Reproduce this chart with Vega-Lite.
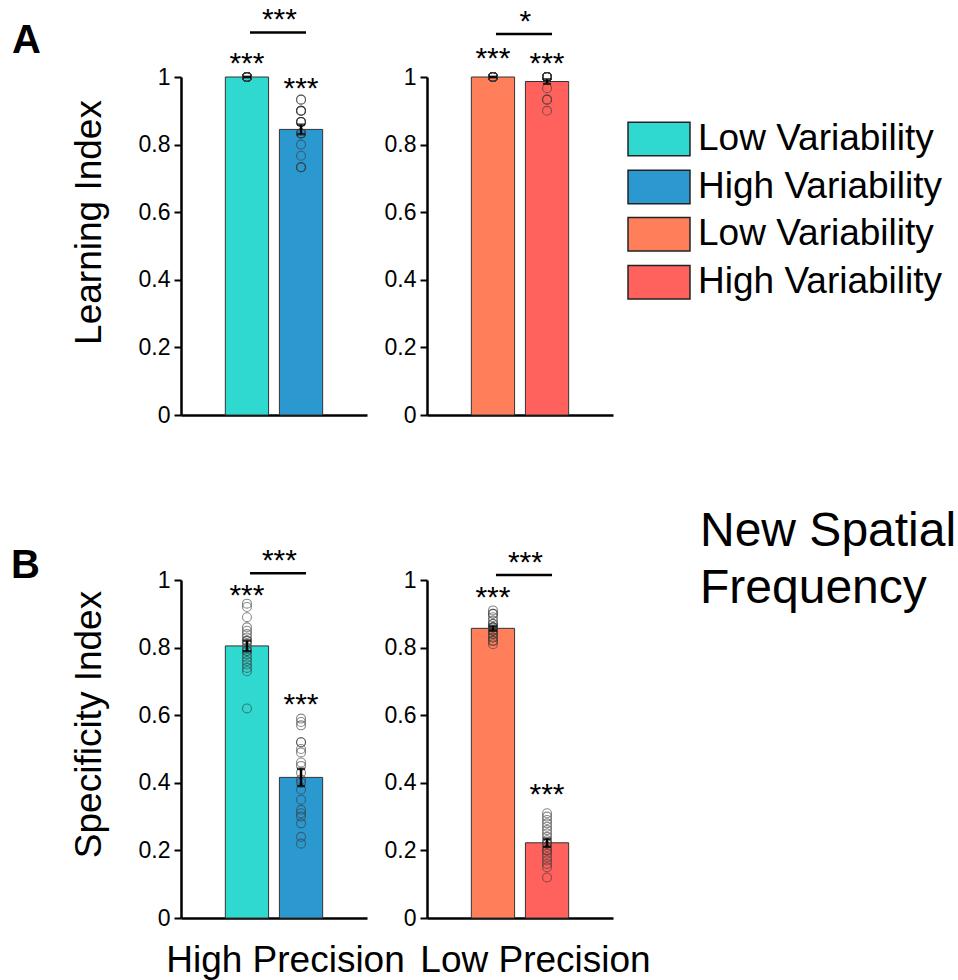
{
  "$schema": "https://vega.github.io/schema/vega-lite/v6.json",
  "autosize": {"type": "none"},
  "padding": {"left": 181, "top": 77, "right": 777, "bottom": 903},
  "background": "white",
  "config": {
    "font": "Liberation Sans",
    "view": {"stroke": null},
    "axis": {"domainColor": "#000", "domainWidth": 2.5, "tickColor": "#000", "tickWidth": 2, "tickSize": 7, "labelFontSize": 23, "labelColor": "#000", "labelPadding": 4, "labelFont": "Liberation Sans", "titleFont": "Liberation Sans", "titleFontSize": 37, "titleFontWeight": "normal", "titleColor": "#000", "grid": false, "titlePadding": 30},
    "legend": {"symbolType": "M-1.85,-1H1.85V1H-1.85Z", "symbolSize": 1122, "symbolStrokeColor": "#222", "symbolStrokeWidth": 1.5, "symbolOpacity": 1, "labelFontSize": 37, "labelFont": "Liberation Sans", "labelColor": "#000", "labelOffset": 20.5, "rowPadding": 7, "labelLimit": 400},
    "title": {"font": "Liberation Sans", "color": "#000"}
  },
  "datasets": {
    "A_HP": [
      {"variability": "Low Variability", "value": 1}, {"variability": "Low Variability", "value": 1}, {"variability": "Low Variability", "value": 1}, {"variability": "Low Variability", "value": 1}, {"variability": "Low Variability", "value": 1},
      {"variability": "Low Variability", "value": 1}, {"variability": "Low Variability", "value": 1}, {"variability": "Low Variability", "value": 1}, {"variability": "Low Variability", "value": 1}, {"variability": "Low Variability", "value": 1},
      {"variability": "Low Variability", "value": 1}, {"variability": "Low Variability", "value": 1}, {"variability": "Low Variability", "value": 1}, {"variability": "Low Variability", "value": 1}, {"variability": "Low Variability", "value": 1},
      {"variability": "Low Variability", "value": 1}, {"variability": "Low Variability", "value": 1}, {"variability": "Low Variability", "value": 1}, {"variability": "Low Variability", "value": 1}, {"variability": "Low Variability", "value": 1},
      {"variability": "High Variability", "value": 0.933}, {"variability": "High Variability", "value": 0.933}, {"variability": "High Variability", "value": 0.9}, {"variability": "High Variability", "value": 0.9}, {"variability": "High Variability", "value": 0.9},
      {"variability": "High Variability", "value": 0.9}, {"variability": "High Variability", "value": 0.867}, {"variability": "High Variability", "value": 0.867}, {"variability": "High Variability", "value": 0.867}, {"variability": "High Variability", "value": 0.867},
      {"variability": "High Variability", "value": 0.867}, {"variability": "High Variability", "value": 0.833}, {"variability": "High Variability", "value": 0.833}, {"variability": "High Variability", "value": 0.833}, {"variability": "High Variability", "value": 0.833},
      {"variability": "High Variability", "value": 0.8}, {"variability": "High Variability", "value": 0.767}, {"variability": "High Variability", "value": 0.733}, {"variability": "High Variability", "value": 0.733}, {"variability": "High Variability", "value": 0.733}
    ],
    "A_LP": [
      {"level": "Low Precision, Low Variability", "value": 1}, {"level": "Low Precision, Low Variability", "value": 1}, {"level": "Low Precision, Low Variability", "value": 1}, {"level": "Low Precision, Low Variability", "value": 1}, {"level": "Low Precision, Low Variability", "value": 1},
      {"level": "Low Precision, Low Variability", "value": 1}, {"level": "Low Precision, Low Variability", "value": 1}, {"level": "Low Precision, Low Variability", "value": 1}, {"level": "Low Precision, Low Variability", "value": 1}, {"level": "Low Precision, Low Variability", "value": 1},
      {"level": "Low Precision, Low Variability", "value": 1}, {"level": "Low Precision, Low Variability", "value": 1}, {"level": "Low Precision, Low Variability", "value": 1}, {"level": "Low Precision, Low Variability", "value": 1}, {"level": "Low Precision, Low Variability", "value": 1},
      {"level": "Low Precision, Low Variability", "value": 1}, {"level": "Low Precision, Low Variability", "value": 1}, {"level": "Low Precision, Low Variability", "value": 1}, {"level": "Low Precision, Low Variability", "value": 1}, {"level": "Low Precision, Low Variability", "value": 1},
      {"level": "Low Precision, High Variability", "value": 1}, {"level": "Low Precision, High Variability", "value": 1}, {"level": "Low Precision, High Variability", "value": 1}, {"level": "Low Precision, High Variability", "value": 1}, {"level": "Low Precision, High Variability", "value": 1},
      {"level": "Low Precision, High Variability", "value": 1}, {"level": "Low Precision, High Variability", "value": 1}, {"level": "Low Precision, High Variability", "value": 1}, {"level": "Low Precision, High Variability", "value": 1}, {"level": "Low Precision, High Variability", "value": 1},
      {"level": "Low Precision, High Variability", "value": 1}, {"level": "Low Precision, High Variability", "value": 1}, {"level": "Low Precision, High Variability", "value": 1}, {"level": "Low Precision, High Variability", "value": 1}, {"level": "Low Precision, High Variability", "value": 1},
      {"level": "Low Precision, High Variability", "value": 1}, {"level": "Low Precision, High Variability", "value": 0.967}, {"level": "Low Precision, High Variability", "value": 0.933}, {"level": "Low Precision, High Variability", "value": 0.933}, {"level": "Low Precision, High Variability", "value": 0.9}
    ],
    "B_HP": [
      {"variability": "Low Variability", "value": 0.93}, {"variability": "Low Variability", "value": 0.92}, {"variability": "Low Variability", "value": 0.89}, {"variability": "Low Variability", "value": 0.86}, {"variability": "Low Variability", "value": 0.85},
      {"variability": "Low Variability", "value": 0.84}, {"variability": "Low Variability", "value": 0.83}, {"variability": "Low Variability", "value": 0.82}, {"variability": "Low Variability", "value": 0.82}, {"variability": "Low Variability", "value": 0.81},
      {"variability": "Low Variability", "value": 0.80}, {"variability": "Low Variability", "value": 0.79}, {"variability": "Low Variability", "value": 0.79}, {"variability": "Low Variability", "value": 0.78}, {"variability": "Low Variability", "value": 0.77},
      {"variability": "Low Variability", "value": 0.76}, {"variability": "Low Variability", "value": 0.75}, {"variability": "Low Variability", "value": 0.74}, {"variability": "Low Variability", "value": 0.73}, {"variability": "Low Variability", "value": 0.62},
      {"variability": "High Variability", "value": 0.59}, {"variability": "High Variability", "value": 0.58}, {"variability": "High Variability", "value": 0.57}, {"variability": "High Variability", "value": 0.52}, {"variability": "High Variability", "value": 0.52},
      {"variability": "High Variability", "value": 0.50}, {"variability": "High Variability", "value": 0.49}, {"variability": "High Variability", "value": 0.46}, {"variability": "High Variability", "value": 0.45}, {"variability": "High Variability", "value": 0.43},
      {"variability": "High Variability", "value": 0.41}, {"variability": "High Variability", "value": 0.40}, {"variability": "High Variability", "value": 0.38}, {"variability": "High Variability", "value": 0.35}, {"variability": "High Variability", "value": 0.32},
      {"variability": "High Variability", "value": 0.31}, {"variability": "High Variability", "value": 0.30}, {"variability": "High Variability", "value": 0.28}, {"variability": "High Variability", "value": 0.24}, {"variability": "High Variability", "value": 0.22}
    ],
    "B_LP": [
      {"level": "Low Precision, Low Variability", "value": 0.91}, {"level": "Low Precision, Low Variability", "value": 0.90}, {"level": "Low Precision, Low Variability", "value": 0.90}, {"level": "Low Precision, Low Variability", "value": 0.89}, {"level": "Low Precision, Low Variability", "value": 0.88},
      {"level": "Low Precision, Low Variability", "value": 0.87}, {"level": "Low Precision, Low Variability", "value": 0.87}, {"level": "Low Precision, Low Variability", "value": 0.86}, {"level": "Low Precision, Low Variability", "value": 0.86}, {"level": "Low Precision, Low Variability", "value": 0.86},
      {"level": "Low Precision, Low Variability", "value": 0.85}, {"level": "Low Precision, Low Variability", "value": 0.85}, {"level": "Low Precision, Low Variability", "value": 0.85}, {"level": "Low Precision, Low Variability", "value": 0.84}, {"level": "Low Precision, Low Variability", "value": 0.84},
      {"level": "Low Precision, Low Variability", "value": 0.83}, {"level": "Low Precision, Low Variability", "value": 0.83}, {"level": "Low Precision, Low Variability", "value": 0.82}, {"level": "Low Precision, Low Variability", "value": 0.82}, {"level": "Low Precision, Low Variability", "value": 0.81},
      {"level": "Low Precision, High Variability", "value": 0.31}, {"level": "Low Precision, High Variability", "value": 0.30}, {"level": "Low Precision, High Variability", "value": 0.29}, {"level": "Low Precision, High Variability", "value": 0.28}, {"level": "Low Precision, High Variability", "value": 0.27},
      {"level": "Low Precision, High Variability", "value": 0.26}, {"level": "Low Precision, High Variability", "value": 0.25}, {"level": "Low Precision, High Variability", "value": 0.24}, {"level": "Low Precision, High Variability", "value": 0.23}, {"level": "Low Precision, High Variability", "value": 0.22},
      {"level": "Low Precision, High Variability", "value": 0.22}, {"level": "Low Precision, High Variability", "value": 0.21}, {"level": "Low Precision, High Variability", "value": 0.20}, {"level": "Low Precision, High Variability", "value": 0.20}, {"level": "Low Precision, High Variability", "value": 0.19},
      {"level": "Low Precision, High Variability", "value": 0.18}, {"level": "Low Precision, High Variability", "value": 0.17}, {"level": "Low Precision, High Variability", "value": 0.16}, {"level": "Low Precision, High Variability", "value": 0.15}, {"level": "Low Precision, High Variability", "value": 0.12}
    ],
    "stars": [
      {"panel": "A-HP", "variability": "Low Variability", "y": 1.011, "label": "***"},
      {"panel": "A-HP", "variability": "High Variability", "y": 0.939, "label": "***"},
      {"panel": "A-LP", "variability": "Low Precision, Low Variability", "y": 1.026, "label": "***"},
      {"panel": "A-LP", "variability": "Low Precision, High Variability", "y": 1.013, "label": "***"},
      {"panel": "B-HP", "variability": "Low Variability", "y": 0.927, "label": "***"},
      {"panel": "B-HP", "variability": "High Variability", "y": 0.604, "label": "***"},
      {"panel": "B-LP", "variability": "Low Precision, Low Variability", "y": 0.92, "label": "***"},
      {"panel": "B-LP", "variability": "Low Precision, High Variability", "y": 0.338, "label": "***"}
    ],
    "brackets": [
      {"panel": "A-HP", "from": "Low Variability", "to": "High Variability", "y": 1.132, "label": "***"},
      {"panel": "A-LP", "from": "Low Precision, Low Variability", "to": "Low Precision, High Variability", "y": 1.127, "label": "*"},
      {"panel": "B-HP", "from": "Low Variability", "to": "High Variability", "y": 1.02, "label": "***"},
      {"panel": "B-LP", "from": "Low Precision, Low Variability", "to": "Low Precision, High Variability", "y": 1.015, "label": "***"}
    ]
  },
  "columns": 2,
  "spacing": {"row": 165, "column": 60},
  "bounds": "flush",
  "concat": [
    {
      "width": 186, "height": 338,
      "title": {"text": "A", "anchor": "start", "frame": "group", "dx": -169, "dy": 88, "offset": 0, "fontSize": 40, "fontWeight": "bold", "baseline": "alphabetic"},
      "layer": [
        {"data": {"name": "A_HP"}, "mark": {"type": "bar", "stroke": "#333", "strokeWidth": 1},
         "encoding": {
           "x": {"field": "variability", "type": "nominal", "scale": {"domain": ["Low Variability", "High Variability"], "paddingInner": 0.2, "paddingOuter": 0.82}, "axis": {"title": null, "labels": false, "ticks": false}},
           "y": {"aggregate": "mean", "field": "value", "type": "quantitative", "title": "Learning Index", "scale": {"domain": [0, 1], "nice": false}, "axis": {"values": [0, 0.2, 0.4, 0.6, 0.8, 1], "format": "~g", "titleY": 145}},
           "color": {"field": "variability", "type": "nominal", "scale": {"domain": ["Low Variability", "High Variability"], "range": ["#30D9CF", "#2C98D0"]}, "legend": {"title": null, "orient": "none", "legendX": 459.5, "legendY": 43.5}}
         }},
        {"data": {"name": "A_HP"}, "mark": {"type": "point", "shape": "circle", "filled": false, "stroke": "#3a3a3a", "strokeOpacity": 0.85, "strokeWidth": 1.1, "size": 80},
         "encoding": {"x": {"field": "variability", "type": "nominal", "title": null}, "y": {"field": "value", "type": "quantitative", "title": "Learning Index", "scale": {"domain": [0, 1]}}}},
        {"data": {"name": "A_HP"}, "mark": {"type": "errorbar", "extent": "stderr", "ticks": true, "thickness": 2.5, "size": 8, "color": "#000"},
         "encoding": {"x": {"field": "variability", "type": "nominal", "title": null}, "y": {"field": "value", "type": "quantitative", "title": "Learning Index", "scale": {"domain": [0, 1]}}}},
        {"data": {"name": "stars"}, "transform": [{"filter": "datum.panel === 'A-HP'"}], "mark": {"type": "text", "fontSize": 30, "baseline": "alphabetic", "color": "#000"},
         "encoding": {"x": {"field": "variability", "type": "nominal", "title": null}, "y": {"field": "y", "type": "quantitative", "title": "Learning Index", "scale": {"domain": [0, 1]}}, "text": {"field": "label"}}},
        {"data": {"name": "brackets"}, "transform": [{"filter": "datum.panel === 'A-HP'"}], "mark": {"type": "rule", "strokeWidth": 2.5, "color": "#000", "xOffset": 3, "x2Offset": 5},
         "encoding": {"x": {"field": "from", "type": "nominal", "title": null}, "x2": {"field": "to"}, "y": {"field": "y", "type": "quantitative", "title": "Learning Index", "scale": {"domain": [0, 1]}}}},
        {"data": {"name": "brackets"}, "transform": [{"filter": "datum.panel === 'A-HP'"}], "mark": {"type": "text", "fontSize": 30, "baseline": "alphabetic", "dy": -3, "color": "#000"},
         "encoding": {"x": {"field": "to", "type": "nominal", "bandPosition": 0, "title": null}, "y": {"field": "y", "type": "quantitative", "title": "Learning Index", "scale": {"domain": [0, 1]}}, "text": {"field": "label"}}}
      ]
    },
    {
      "width": 186, "height": 338,
      "layer": [
        {"data": {"name": "A_LP"}, "mark": {"type": "bar", "stroke": "#333", "strokeWidth": 1},
         "encoding": {
           "x": {"field": "level", "type": "nominal", "scale": {"domain": ["Low Precision, Low Variability", "Low Precision, High Variability"], "paddingInner": 0.2, "paddingOuter": 0.82}, "axis": {"title": null, "labels": false, "ticks": false}},
           "y": {"aggregate": "mean", "field": "value", "type": "quantitative", "title": null, "scale": {"domain": [0, 1], "nice": false}, "axis": {"values": [0, 0.2, 0.4, 0.6, 0.8, 1], "format": "~g"}},
           "fill": {"field": "level", "type": "nominal", "scale": {"domain": ["Low Precision, Low Variability", "Low Precision, High Variability"], "range": ["#FF7F5B", "#FF625C"]}, "legend": {"title": null, "orient": "none", "legendX": 459.5, "legendY": 138.8, "labelExpr": "split(datum.label, ', ')[1]"}}
         }},
        {"data": {"name": "A_LP"}, "mark": {"type": "point", "shape": "circle", "filled": false, "stroke": "#3a3a3a", "strokeOpacity": 0.85, "strokeWidth": 1.1, "size": 80},
         "encoding": {"x": {"field": "level", "type": "nominal", "title": null}, "y": {"field": "value", "type": "quantitative", "title": null, "scale": {"domain": [0, 1]}}}},
        {"data": {"name": "A_LP"}, "mark": {"type": "errorbar", "extent": "stderr", "ticks": true, "thickness": 2.5, "size": 8, "color": "#000"},
         "encoding": {"x": {"field": "level", "type": "nominal", "title": null}, "y": {"field": "value", "type": "quantitative", "title": null, "scale": {"domain": [0, 1]}}}},
        {"data": {"name": "stars"}, "transform": [{"filter": "datum.panel === 'A-LP'"}], "mark": {"type": "text", "fontSize": 30, "baseline": "alphabetic", "color": "#000"},
         "encoding": {"x": {"field": "variability", "type": "nominal", "title": null}, "y": {"field": "y", "type": "quantitative", "title": null, "scale": {"domain": [0, 1]}}, "text": {"field": "label"}}},
        {"data": {"name": "brackets"}, "transform": [{"filter": "datum.panel === 'A-LP'"}], "mark": {"type": "rule", "strokeWidth": 2.5, "color": "#000", "xOffset": 3, "x2Offset": 5},
         "encoding": {"x": {"field": "from", "type": "nominal", "title": null}, "x2": {"field": "to"}, "y": {"field": "y", "type": "quantitative", "title": null, "scale": {"domain": [0, 1]}}}},
        {"data": {"name": "brackets"}, "transform": [{"filter": "datum.panel === 'A-LP'"}], "mark": {"type": "text", "fontSize": 30, "baseline": "alphabetic", "dy": -3, "color": "#000"},
         "encoding": {"x": {"field": "to", "type": "nominal", "bandPosition": 0, "title": null}, "y": {"field": "y", "type": "quantitative", "title": null, "scale": {"domain": [0, 1]}}, "text": {"field": "label"}}}
      ]
    },
    {
      "width": 186, "height": 338,
      "title": {"text": "B", "anchor": "start", "frame": "group", "dx": -170, "dy": 72, "offset": 0, "fontSize": 40, "fontWeight": "bold", "baseline": "alphabetic"},
      "layer": [
        {"data": {"name": "B_HP"}, "mark": {"type": "bar", "stroke": "#333", "strokeWidth": 1},
         "encoding": {
           "x": {"field": "variability", "type": "nominal", "title": "High Precision", "scale": {"domain": ["Low Variability", "High Variability"], "paddingInner": 0.2, "paddingOuter": 0.82}, "axis": {"labels": false, "ticks": false, "titleX": 104, "titlePadding": 24}},
           "y": {"aggregate": "mean", "field": "value", "type": "quantitative", "title": "Specificity Index", "scale": {"domain": [0, 1], "nice": false}, "axis": {"values": [0, 0.2, 0.4, 0.6, 0.8, 1], "format": "~g", "titleY": 144}},
           "color": {"field": "variability", "type": "nominal", "scale": {"domain": ["Low Variability", "High Variability"], "range": ["#30D9CF", "#2C98D0"]}, "legend": {"title": null, "orient": "none", "legendX": 459.5, "legendY": 43.5}}
         }},
        {"data": {"name": "B_HP"}, "mark": {"type": "point", "shape": "circle", "filled": false, "stroke": "#3a3a3a", "strokeOpacity": 0.85, "strokeWidth": 1.1, "size": 80},
         "encoding": {"x": {"field": "variability", "type": "nominal", "title": "High Precision"}, "y": {"field": "value", "type": "quantitative", "title": "Specificity Index", "scale": {"domain": [0, 1]}}}},
        {"data": {"name": "B_HP"}, "mark": {"type": "errorbar", "extent": "stderr", "ticks": true, "thickness": 2.5, "size": 8, "color": "#000"},
         "encoding": {"x": {"field": "variability", "type": "nominal", "title": "High Precision"}, "y": {"field": "value", "type": "quantitative", "title": "Specificity Index", "scale": {"domain": [0, 1]}}}},
        {"data": {"name": "stars"}, "transform": [{"filter": "datum.panel === 'B-HP'"}], "mark": {"type": "text", "fontSize": 30, "baseline": "alphabetic", "color": "#000"},
         "encoding": {"x": {"field": "variability", "type": "nominal", "title": "High Precision"}, "y": {"field": "y", "type": "quantitative", "title": "Specificity Index", "scale": {"domain": [0, 1]}}, "text": {"field": "label"}}},
        {"data": {"name": "brackets"}, "transform": [{"filter": "datum.panel === 'B-HP'"}], "mark": {"type": "rule", "strokeWidth": 2.5, "color": "#000", "xOffset": 3, "x2Offset": 5},
         "encoding": {"x": {"field": "from", "type": "nominal", "title": "High Precision"}, "x2": {"field": "to"}, "y": {"field": "y", "type": "quantitative", "title": "Specificity Index", "scale": {"domain": [0, 1]}}}},
        {"data": {"name": "brackets"}, "transform": [{"filter": "datum.panel === 'B-HP'"}], "mark": {"type": "text", "fontSize": 30, "baseline": "alphabetic", "dy": -3, "color": "#000"},
         "encoding": {"x": {"field": "to", "type": "nominal", "bandPosition": 0, "title": "High Precision"}, "y": {"field": "y", "type": "quantitative", "title": "Specificity Index", "scale": {"domain": [0, 1]}}, "text": {"field": "label"}}}
      ]
    },
    {
      "width": 186, "height": 338,
      "title": {"text": ["New Spatial", "Frequency"], "anchor": "start", "frame": "group", "dx": 273, "dy": 103, "offset": 0, "fontSize": 48, "fontWeight": "normal", "baseline": "alphabetic", "lineHeight": 57},
      "layer": [
        {"data": {"name": "B_LP"}, "mark": {"type": "bar", "stroke": "#333", "strokeWidth": 1},
         "encoding": {
           "x": {"field": "level", "type": "nominal", "title": "Low Precision", "scale": {"domain": ["Low Precision, Low Variability", "Low Precision, High Variability"], "paddingInner": 0.2, "paddingOuter": 0.82}, "axis": {"labels": false, "ticks": false, "titleX": 108, "titlePadding": 24}},
           "y": {"aggregate": "mean", "field": "value", "type": "quantitative", "title": null, "scale": {"domain": [0, 1], "nice": false}, "axis": {"values": [0, 0.2, 0.4, 0.6, 0.8, 1], "format": "~g"}},
           "fill": {"field": "level", "type": "nominal", "scale": {"domain": ["Low Precision, Low Variability", "Low Precision, High Variability"], "range": ["#FF7F5B", "#FF625C"]}, "legend": {"title": null, "orient": "none", "legendX": 459.5, "legendY": 138.8, "labelExpr": "split(datum.label, ', ')[1]"}}
         }},
        {"data": {"name": "B_LP"}, "mark": {"type": "point", "shape": "circle", "filled": false, "stroke": "#3a3a3a", "strokeOpacity": 0.85, "strokeWidth": 1.1, "size": 80},
         "encoding": {"x": {"field": "level", "type": "nominal", "title": "Low Precision"}, "y": {"field": "value", "type": "quantitative", "title": null, "scale": {"domain": [0, 1]}}}},
        {"data": {"name": "B_LP"}, "mark": {"type": "errorbar", "extent": "stderr", "ticks": true, "thickness": 2.5, "size": 8, "color": "#000"},
         "encoding": {"x": {"field": "level", "type": "nominal", "title": "Low Precision"}, "y": {"field": "value", "type": "quantitative", "title": null, "scale": {"domain": [0, 1]}}}},
        {"data": {"name": "stars"}, "transform": [{"filter": "datum.panel === 'B-LP'"}], "mark": {"type": "text", "fontSize": 30, "baseline": "alphabetic", "color": "#000"},
         "encoding": {"x": {"field": "variability", "type": "nominal", "title": "Low Precision"}, "y": {"field": "y", "type": "quantitative", "title": null, "scale": {"domain": [0, 1]}}, "text": {"field": "label"}}},
        {"data": {"name": "brackets"}, "transform": [{"filter": "datum.panel === 'B-LP'"}], "mark": {"type": "rule", "strokeWidth": 2.5, "color": "#000", "xOffset": 3, "x2Offset": 5},
         "encoding": {"x": {"field": "from", "type": "nominal", "title": "Low Precision"}, "x2": {"field": "to"}, "y": {"field": "y", "type": "quantitative", "title": null, "scale": {"domain": [0, 1]}}}},
        {"data": {"name": "brackets"}, "transform": [{"filter": "datum.panel === 'B-LP'"}], "mark": {"type": "text", "fontSize": 30, "baseline": "alphabetic", "dy": -3, "color": "#000"},
         "encoding": {"x": {"field": "to", "type": "nominal", "bandPosition": 0, "title": "Low Precision"}, "y": {"field": "y", "type": "quantitative", "title": null, "scale": {"domain": [0, 1]}}, "text": {"field": "label"}}}
      ]
    }
  ]
}
